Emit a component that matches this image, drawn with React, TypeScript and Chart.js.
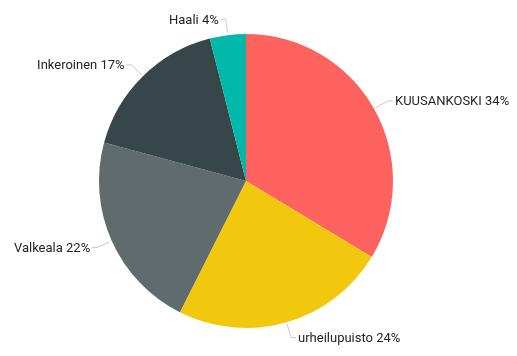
import React, { useEffect, useRef } from "react";
import { Chart, registerables } from "chart.js";

Chart.register(...registerables);

// Share of visits per location (percent)
const categories = ["KUUSANKOSKI", "urheilupuisto", "Valkeala", "Inkeroinen", "Haali"];
const shares = [34, 24, 22, 17, 4];
const sliceColors = ["#FD625E", "#F2C80F", "#5F6B6D", "#374649", "#01B8AA"];

const FONT = "13px Roboto, 'DejaVu Sans', sans-serif";

// Draws each slice's label outside the pie with an elbowed leader line.
const outsideLabels = {
  id: "outsideLabels",
  afterDatasetsDraw(chart: any) {
    const ctx: CanvasRenderingContext2D = chart.ctx;
    const meta = chart.getDatasetMeta(0);
    const data = chart.data.datasets[0].data as number[];
    ctx.save();
    ctx.font = FONT;
    ctx.textBaseline = "middle";
    meta.data.forEach((arc: any, i: number) => {
      const { x, y, startAngle, endAngle, outerRadius } = arc.getProps(
        ["x", "y", "startAngle", "endAngle", "outerRadius"],
        true
      );
      const mid = (startAngle + endAngle) / 2;
      const cx = Math.cos(mid);
      const cy = Math.sin(mid);
      const p0x = x + cx * (outerRadius + 2);
      const p0y = y + cy * (outerRadius + 2);
      const ex = x + cx * (outerRadius + 16);
      const ey = y + cy * (outerRadius + 16);
      const side = cx >= 0 ? 1 : -1;
      const hx = ex + side * 5;
      ctx.strokeStyle = "#C8C8C8";
      ctx.lineWidth = 1;
      ctx.beginPath();
      ctx.moveTo(p0x, p0y);
      ctx.lineTo(ex, ey);
      ctx.lineTo(hx, ey);
      ctx.stroke();
      ctx.fillStyle = "#252423";
      ctx.textAlign = side > 0 ? "left" : "right";
      ctx.fillText(`${chart.data.labels[i]} ${data[i]}%`, hx + side * 2, ey + 1);
    });
    ctx.restore();
  },
};

export default function App() {
  const canvasRef = useRef<HTMLCanvasElement | null>(null);

  useEffect(() => {
    document.body.style.margin = "0";
    const canvas = canvasRef.current;
    if (!canvas) return;
    const chart = new Chart(canvas, {
      type: "pie",
      data: {
        labels: categories,
        datasets: [
          {
            data: shares,
            backgroundColor: sliceColors,
            borderWidth: 0,
          },
        ],
      },
      options: {
        responsive: false,
        animation: false,
        layout: { padding: { top: 34, bottom: 28, left: 80, right: 105 } },
        plugins: {
          legend: { display: false },
          tooltip: { enabled: false },
        },
      },
      plugins: [outsideLabels],
    });
    return () => chart.destroy();
  }, []);

  return (
    <div style={{ position: "absolute", left: 0, top: 0, width: 517, height: 356, background: "#fff" }}>
      <canvas ref={canvasRef} width={517} height={356} />
    </div>
  );
}
